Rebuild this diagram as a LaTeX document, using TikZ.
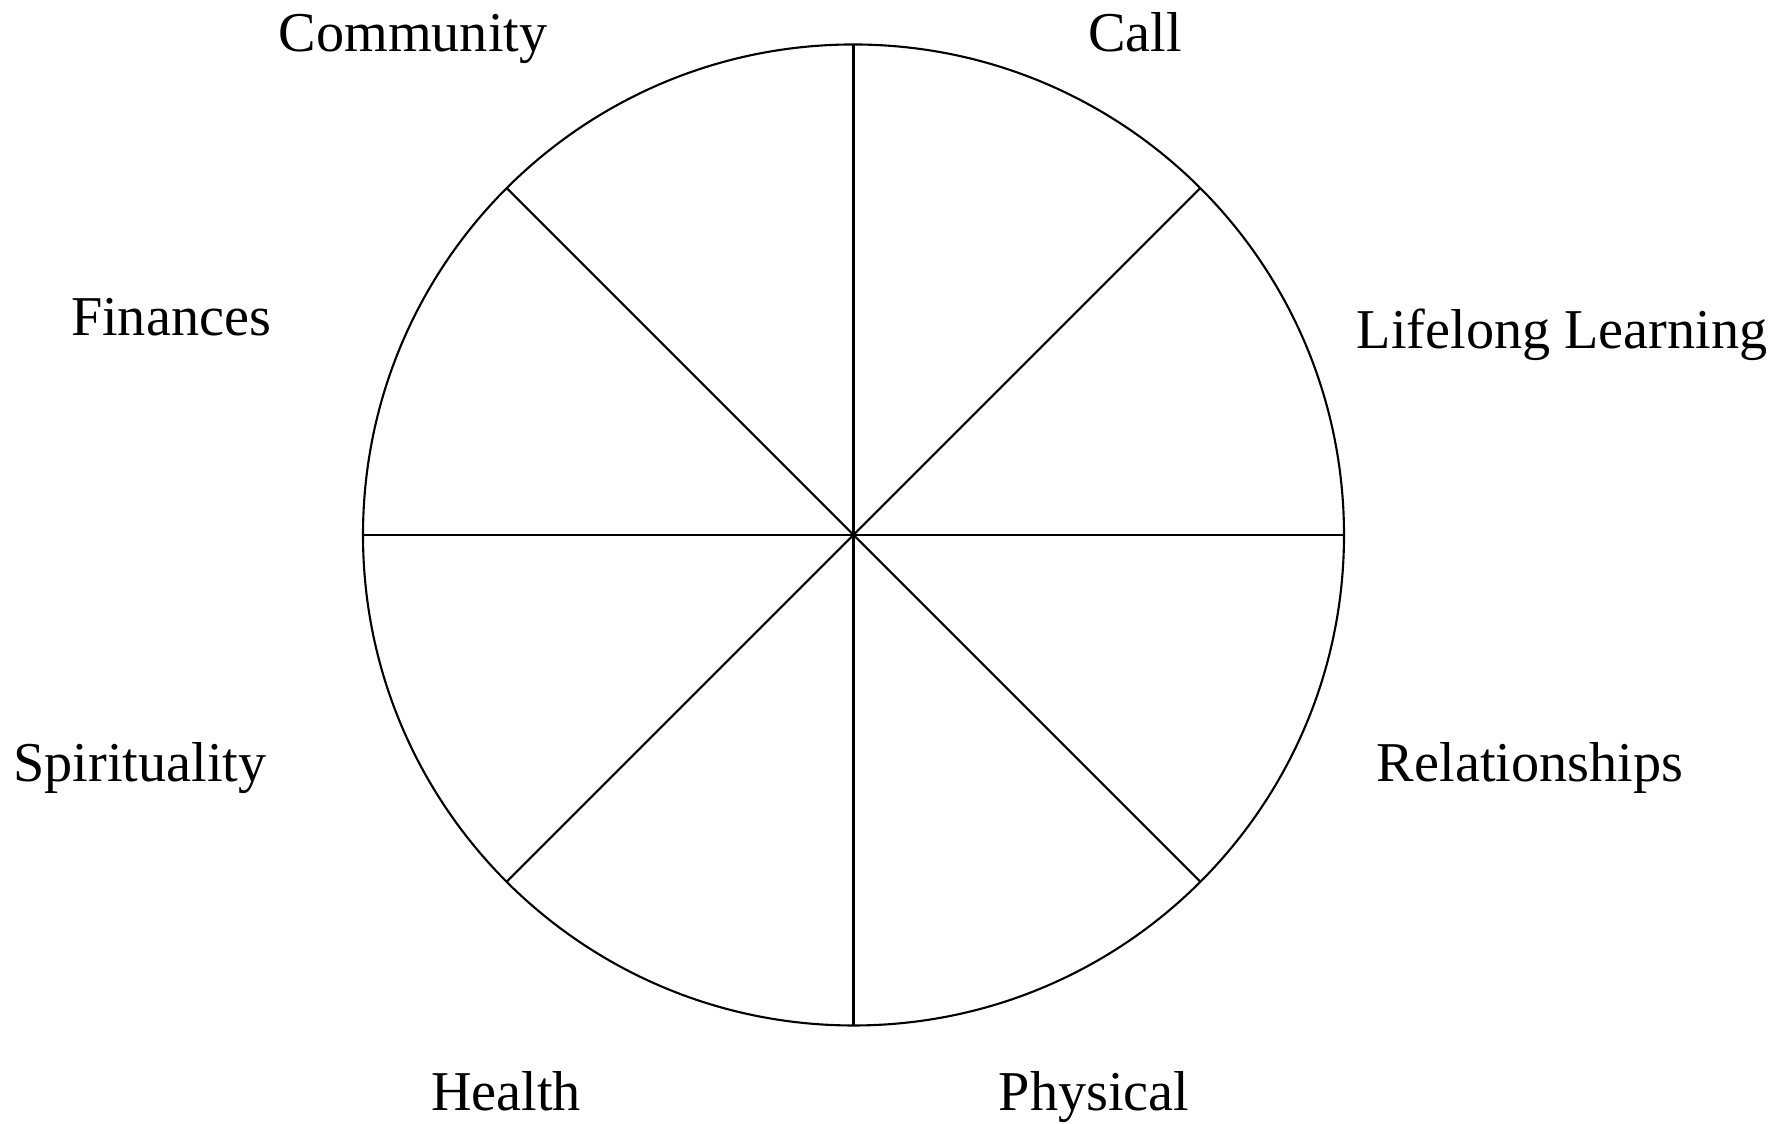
\documentclass[tikz,border=0pt]{standalone}
\usepackage{fontspec}
\setmainfont{Liberation Serif}
\usepackage{tikz}
\usetikzlibrary{positioning}

\begin{document}
\begin{tikzpicture}[
  rim/.style={draw, circle, line width=0.6pt, minimum size=9.81cm, inner sep=0pt, outer sep=0pt},
  spoke/.style={line width=0.6pt, black},
  area/.style={anchor=base, inner sep=0pt, font=\fontsize{16}{19}\selectfont}
]
  \useasboundingbox (0,0) rectangle (17.78,11.24);
  % wheel
  \node[rim] (wheel) at (8.535,5.89) {};
  \foreach \a in {0,45,...,315}
    \draw[spoke] (wheel.center) -- (wheel.\a);
  % areas round the wheel
  \node[area] (community) at (4.13,10.72) {Community};
  \node[area] (call) at (11.35,10.72) {Call};
  \node[area] (learning) at (15.62,7.75) {Lifelong Learning};
  \node[area] (finances) at (1.71,7.88) {Finances};
  \node[area] (spirit) at (1.40,3.42) {Spirituality};
  \node[area] (relations) at (15.30,3.42) {Relationships};
  \node[area] (health) at (5.06,0.13) {Health};
  \node[area] (physical) at (10.94,0.13) {Physical};
\end{tikzpicture}
\end{document}
